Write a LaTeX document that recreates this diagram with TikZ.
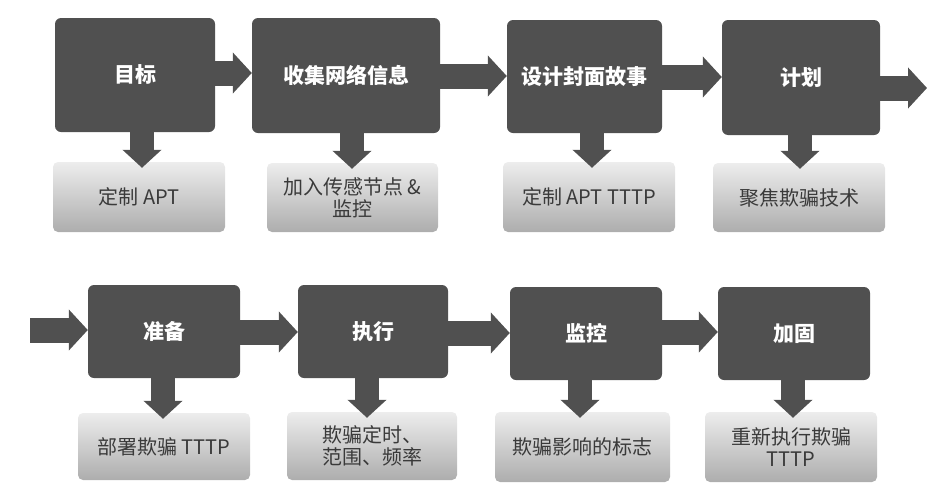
\documentclass[tikz,border=0pt]{standalone}
\usepackage{fontspec}
\newfontfamily\cjk{Noto Sans CJK SC}
\usetikzlibrary{arrows.meta}
\definecolor{darkbox}{HTML}{505050}
\definecolor{lighttop}{HTML}{EDEDED}
\definecolor{lightbot}{HTML}{ADADAD}
\definecolor{lighttext}{HTML}{3A3A3A}
\tikzset{
  stagebox/.style={fill=darkbox, rounded corners=6pt, inner sep=0pt, text=white,
    font=\cjk\fontsize{21}{24}\selectfont\bfseries},
  resultbox/.style={top color=lighttop, bottom color=lightbot, rounded corners=5pt,
    inner sep=0pt, text=lighttext, align=center,
    font=\cjk\fontsize{20}{22}\selectfont},
  blockarrow/.style={draw=darkbox, line width=25pt,
    -{Triangle[length=19pt,width=40pt]}},
  downarrow/.style={draw=darkbox, line width=24pt, shorten >=-6pt,
    -{Triangle[length=18pt,width=38pt]}},
}
\begin{document}
\begin{tikzpicture}[x=1pt,y=-1pt]
\useasboundingbox (0,0) rectangle (936,501);
% top row stages
\node[stagebox, minimum width=160pt, minimum height=114pt] (s1) at (135,75) {目标};
\node[stagebox, minimum width=188pt, minimum height=115pt] (s2) at (346,75.5) {收集网络信息};
\node[stagebox, minimum width=155pt, minimum height=113pt] (s3) at (584.5,76.5) {设计封面故事};
\node[stagebox, minimum width=158pt, minimum height=115pt] (s4) at (801,77.5) {计划};
% top row results
\node[resultbox, minimum width=172pt, minimum height=70pt] (r1) at (139,197) {定制 APT};
\node[resultbox, minimum width=171pt, minimum height=69pt] (r2) at (352.5,197.5) {加入传感节点 \&\\监控};
\node[resultbox, minimum width=172pt, minimum height=70pt] (r3) at (589,197) {定制 APT TTTP};
\node[resultbox, minimum width=172pt, minimum height=69pt] (r4) at (799,197.5) {聚焦欺骗技术};
% bottom row stages
\node[stagebox, minimum width=152pt, minimum height=93pt] (s5) at (164,331.5) {准备};
\node[stagebox, minimum width=150pt, minimum height=93pt] (s6) at (373,331.5) {执行};
\node[stagebox, minimum width=152pt, minimum height=93pt] (s7) at (586,333.5) {监控};
\node[stagebox, minimum width=152pt, minimum height=93pt] (s8) at (794,333.5) {加固};
% bottom row results
\node[resultbox, minimum width=172pt, minimum height=67pt] (r5) at (164,446.5) {部署欺骗 TTTP};
\node[resultbox, minimum width=170pt, minimum height=68pt] (r6) at (372,446) {欺骗定时、\\范围、频率};
\node[resultbox, minimum width=175pt, minimum height=70pt] (r7) at (582.5,447) {欺骗影响的标志};
\node[resultbox, minimum width=172pt, minimum height=70pt] (r8) at (791,447) {重新执行欺骗\\TTTP};
% free ends
\coordinate (outR) at (927,88);
\coordinate (inL) at (30,330);
% horizontal arrows
\draw[blockarrow] (s1.east |- 0,73) -- (s2.west |- 0,73);
\draw[blockarrow] (s2.east |- 0,76) -- (s3.west |- 0,76);
\draw[blockarrow] (s3.east |- 0,77) -- (s4.west |- 0,77);
\draw[blockarrow] (s4.east |- outR) -- (outR);
\draw[blockarrow] (inL) -- (s5.west |- inL);
\draw[blockarrow] (s5.east |- 0,332) -- (s6.west |- 0,332);
\draw[blockarrow] (s6.east |- 0,333) -- (s7.west |- 0,333);
\draw[blockarrow] (s7.east |- 0,332) -- (s8.west |- 0,332);
% down arrows
\draw[downarrow] (s1.south -| 142,0) -- (r1.north -| 142,0);
\draw[downarrow] (s2.south -| 352,0) -- (r2.north -| 352,0);
\draw[downarrow] (s3.south -| 592,0) -- (r3.north -| 592,0);
\draw[downarrow] (s4.south -| 800,0) -- (r4.north -| 800,0);
\draw[downarrow] (s5.south -| 163,0) -- (r5.north -| 163,0);
\draw[downarrow] (s6.south -| 367,0) -- (r6.north -| 367,0);
\draw[downarrow] (s7.south -| 580,0) -- (r7.north -| 580,0);
\draw[downarrow] (s8.south -| 793,0) -- (r8.north -| 793,0);
\end{tikzpicture}
\end{document}
